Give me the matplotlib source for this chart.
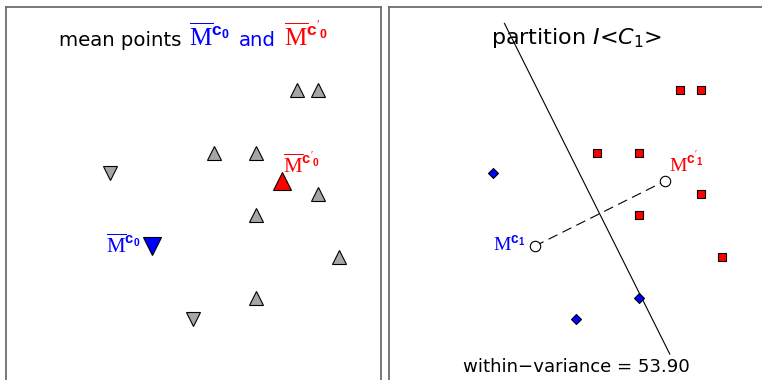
import numpy as np
import matplotlib
matplotlib.use('Agg')
import matplotlib.pyplot as plt
from matplotlib.offsetbox import TextArea, HPacker, AnnotationBbox

plt.rcParams['font.family'] = ['DejaVu Sans']
plt.rcParams['mathtext.fontset'] = 'custom'
plt.rcParams['mathtext.rm'] = 'Liberation Serif'
plt.rcParams['mathtext.bf'] = 'Liberation Sans:bold'
plt.rcParams['mathtext.it'] = 'DejaVu Sans:italic'
plt.rcParams['mathtext.sf'] = 'DejaVu Sans'

# ---- data (x to the right, y downward, grid units) ----
up_x = [14, 15, 10, 12, 15, 12, 16, 12]
up_y = [4, 4, 7, 7, 9, 10, 12, 14]
down_x = [5, 9]
down_y = [8, 15]
within_variance = 53.90
line_x_range = [5.55, 13.5]   # extent of the drawn partition boundary

title_left = ["mean points", r"$\overline{\mathrm{M}}^{\mathbf{c}_{\mathbf{0}}}$", "and",
              r"$\overline{\mathrm{M}}^{\mathbf{c}'_{\mathbf{0}}}$"]
title_right = r"partition $I$<$C_{\mathsf{1}}$>"
bottom_text = "within\u2212variance = {:.2f}".format(within_variance)

GRAY = '#a6a6a6'
FRAME = '#6e6e6e'
W, H = 762, 380
unit = 20.8

fig = plt.figure(figsize=(W / 100, H / 100), dpi=100)


def make_ax(left_px):
    ax = fig.add_axes([left_px / W, 1 - 390 / H, 375 / W, 383 / H])
    ax.set_xlim(0, 375 / unit)
    ax.set_ylim(383 / unit, 0)
    ax.set_xticks([])
    ax.set_yticks([])
    for s in ax.spines.values():
        s.set_color(FRAME)
        s.set_linewidth(1.3)
    return ax


ax1 = make_ax(6)
ax2 = make_ax(389)

up = np.array([up_x, up_y], float).T
down = np.array([down_x, down_y], float).T
m1 = up.mean(axis=0)     # mean of upward group (red)
m0 = down.mean(axis=0)   # mean of downward group (blue)

# ---- left panel ----
ax1.plot(up[:, 0], up[:, 1], '^', ms=9.5, mfc=GRAY, mec='black', mew=0.8, ls='none')
ax1.plot(down[:, 0], down[:, 1], 'v', ms=9.5, mfc=GRAY, mec='black', mew=0.8, ls='none')
ax1.plot([m1[0]], [m1[1]], '^', ms=12.5, mfc='#ff0000', mec='black', mew=0.8)
ax1.plot([m0[0]], [m0[1]], 'v', ms=13, mfc='#0000ff', mec='black', mew=0.8)

ax1.annotate(title_left[1], xy=m0, xytext=(-8, 0.5), textcoords='offset points',
             ha='right', va='center', color='#0000ff', fontsize=15)
ax1.annotate(title_left[3], xy=m1, xytext=(1, 3), textcoords='offset points',
             ha='left', va='bottom', color='#ff0000', fontsize=15)

parts = [TextArea(title_left[0], textprops=dict(color='black', fontsize=14.2)),
         TextArea(title_left[1], textprops=dict(color='#0000ff', fontsize=18)),
         TextArea(title_left[2], textprops=dict(color='#0000ff', fontsize=14.2)),
         TextArea(title_left[3], textprops=dict(color='#ff0000', fontsize=18))]
hp = HPacker(children=parts, align='baseline', pad=0, sep=6)
ab = AnnotationBbox(hp, xy=(9.0, 1.4), xycoords='data', frameon=False,
                    box_alignment=(0.5, 0.5), annotation_clip=False)
ax1.add_artist(ab)

# ---- right panel ----
pts = np.vstack([up, down])
d0 = np.hypot(*(pts - m0).T)
d1 = np.hypot(*(pts - m1).T)
red = pts[d1 < d0]
blue = pts[d0 <= d1]

mid = (m0 + m1) / 2
dvec = m1 - m0
perp = np.array([-dvec[1], dvec[0]])
lx = np.array(line_x_range)
ly = mid[1] + (lx - mid[0]) * perp[1] / perp[0]
ax2.plot(lx, ly, color='black', lw=0.8)

ax2.plot([m0[0], m1[0]], [m0[1], m1[1]], color='black', lw=0.8, ls=(0, (9, 5)))
ax2.plot([m0[0], m1[0]], [m0[1], m1[1]], 'o', ms=7.5, mfc='white', mec='black', mew=0.8, ls='none', zorder=4)

ax2.plot(red[:, 0], red[:, 1], 's', ms=6, mfc='#ff0000', mec='black', mew=0.8, ls='none')
ax2.plot(blue[:, 0], blue[:, 1], 'D', ms=5.5, mfc='#0000ff', mec='black', mew=0.8, ls='none')

ax2.annotate(r"$\mathrm{M}^{\mathbf{c}_{\mathbf{1}}}$", xy=m0, xytext=(-7, 1), textcoords='offset points',
             ha='right', va='center', color='#0000ff', fontsize=14)
ax2.annotate(r"$\mathrm{M}^{\mathbf{c}'_{\mathbf{1}}}$", xy=m1, xytext=(3, 4.5), textcoords='offset points',
             ha='left', va='bottom', color='#ff0000', fontsize=14)

ax2.text(9.0, 1.78, title_right, ha='center', va='baseline', fontsize=16)
ax2.text(9.0, 17.55, bottom_text, ha='center', va='baseline', fontsize=13.1)

fig.savefig('out.png', dpi=100)
